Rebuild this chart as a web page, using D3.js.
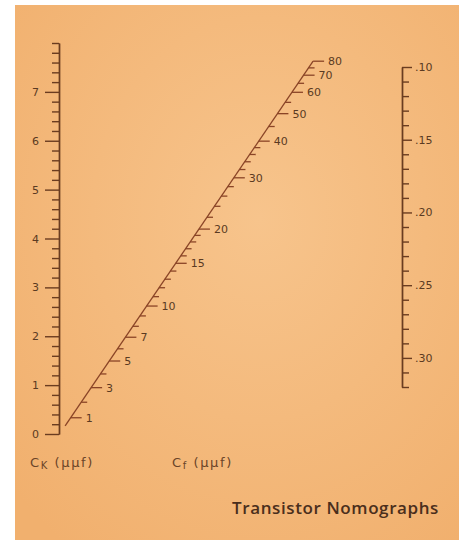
<!DOCTYPE html>
<html>
<head>
<meta charset="utf-8">
<script src="https://cdn.jsdelivr.net/npm/d3@7"></script>
<style>
  body { margin: 0; background: #fff; }
  svg { display: block; }
  .lbl { font-family: "DejaVu Sans", sans-serif; font-size: 11px; fill: #5a3a22; }
  .ttl { font-family: "DejaVu Sans", sans-serif; font-size: 13px; fill: #6a4428; letter-spacing: 1.6px; }
</style>
</head>
<body>
<div id="chart"></div>
<script>
// Ck scale (left), Cf scale (diagonal), ratio scale (right)
var ckLabels = [0, 1, 2, 3, 4, 5, 6, 7];
var ckMinor = [0.2, 0.4, 0.6, 0.8, 1.2, 1.4, 1.6, 1.8, 2.2, 2.4, 2.6, 2.8, 3.2, 3.4, 3.6, 3.8,
               4.2, 4.4, 4.6, 4.8, 5.2, 5.4, 5.6, 5.8, 6.2, 6.4, 6.6, 6.8, 7.2, 7.4, 7.6, 7.8, 8];
var cfLabels = [1, 3, 5, 7, 10, 15, 20, 30, 40, 50, 60, 70, 80];
var cfMinor = [2, 4, 6, 8, 9, 11, 12, 13, 14, 16, 17, 18, 19, 22, 24, 26, 28, 32, 34, 36, 38, 45, 55, 65, 75];
var rLabels = [0.10, 0.15, 0.20, 0.25, 0.30];
var rMinor = [0.11, 0.12, 0.13, 0.14, 0.16, 0.17, 0.18, 0.19, 0.21, 0.22, 0.23, 0.24,
              0.26, 0.27, 0.28, 0.29, 0.31, 0.32];

var width = 466, height = 540;
var ink = "#6a3c20", red = "#8a4426";

var svg = d3.select("#chart").append("svg")
    .attr("width", width)
    .attr("height", height);

// paper
var grad = svg.append("defs").append("radialGradient")
    .attr("id", "paper").attr("cx", "55%").attr("cy", "40%").attr("r", "75%");
grad.append("stop").attr("offset", "0%").attr("stop-color", "#f7c48c");
grad.append("stop").attr("offset", "100%").attr("stop-color", "#f1b06e");
svg.append("rect")
    .attr("x", 15).attr("y", 5).attr("width", 444).attr("height", 535)
    .attr("fill", "url(#paper)");

// left axis: Ck
var yCk = d3.scaleLinear().domain([0, 8]).range([434, 43]);
var left = svg.append("g").attr("transform", "translate(59,0)");
left.append("g")
    .call(d3.axisLeft(yCk).tickValues(ckMinor).tickSize(7).tickSizeOuter(0).tickFormat(""));
left.append("g")
    .call(d3.axisLeft(yCk).tickValues(ckLabels).tickSize(14).tickSizeOuter(0).tickPadding(6));
left.selectAll("path, line").attr("stroke", ink).attr("stroke-width", 1.4);
left.selectAll("text").attr("class", "lbl").attr("font-size", null).attr("font-family", null)
    .attr("fill", null);

// right axis
var yR = d3.scaleLinear().domain([0.10, 0.32]).range([67, 387]);
var right = svg.append("g").attr("transform", "translate(402,0)");
right.append("g")
    .call(d3.axisRight(yR).tickValues(rMinor).tickSize(7).tickSizeOuter(0).tickFormat(""));
right.append("g")
    .call(d3.axisRight(yR).tickValues(rLabels).tickSize(10).tickSizeOuter(0).tickPadding(3)
      .tickFormat(function(d) { return d3.format(".2f")(d).replace("0.", "."); }));
right.selectAll("path, line").attr("stroke", ink).attr("stroke-width", 1.4);
right.selectAll("text").attr("class", "lbl").attr("font-size", null).attr("font-family", null)
    .attr("fill", null);

// diagonal Cf scale (hyperbolic spacing)
var cfScale = d3.scaleLinear().domain([0, 1]).range([0, 513]);
function cfPos(v) {
  var s = cfScale(v / (30 + v));
  return [59.4 + 0.68 * s, 434.3 - s];
}
var diag = svg.append("g");
var p0 = cfPos(0.5), p1 = cfPos(80);
diag.append("line")
    .attr("x1", p0[0]).attr("y1", p0[1]).attr("x2", p1[0]).attr("y2", p1[1])
    .attr("stroke", red).attr("stroke-width", 1.3);
diag.selectAll(".minor").data(cfMinor).enter().append("line")
    .attr("x1", function(d) { return cfPos(d)[0]; })
    .attr("x2", function(d) { return cfPos(d)[0] + 6; })
    .attr("y1", function(d) { return cfPos(d)[1]; })
    .attr("y2", function(d) { return cfPos(d)[1]; })
    .attr("stroke", red).attr("stroke-width", 1.3);
diag.selectAll(".major").data(cfLabels).enter().append("line")
    .attr("x1", function(d) { return cfPos(d)[0]; })
    .attr("x2", function(d) { return cfPos(d)[0] + 11; })
    .attr("y1", function(d) { return cfPos(d)[1]; })
    .attr("y2", function(d) { return cfPos(d)[1]; })
    .attr("stroke", red).attr("stroke-width", 1.3);
diag.selectAll("text").data(cfLabels).enter().append("text")
    .attr("class", "lbl")
    .attr("x", function(d) { return cfPos(d)[0] + 15; })
    .attr("y", function(d) { return cfPos(d)[1]; })
    .attr("dy", "0.35em")
    .text(function(d) { return d; });

// axis titles
var t1 = svg.append("text").attr("class", "ttl").attr("x", 30).attr("y", 467);
t1.append("tspan").text("C");
t1.append("tspan").attr("font-size", "10px").attr("dy", 2).text("K");
t1.append("tspan").attr("dy", -2).text(" (μμf)");
var t2 = svg.append("text").attr("class", "ttl").attr("x", 172).attr("y", 467);
t2.append("tspan").text("C");
t2.append("tspan").attr("font-size", "10px").attr("dy", 2).text("f");
t2.append("tspan").attr("dy", -2).text(" (μμf)");

svg.append("text")
    .attr("x", 439).attr("y", 514)
    .attr("text-anchor", "end")
    .attr("font-family", "Open Sans, sans-serif")
    .attr("font-weight", 600)
    .attr("font-size", "17px")
    .attr("letter-spacing", "0.6px")
    .attr("fill", "#4a2e1c")
    .text("Transistor Nomographs");
</script>
</body>
</html>
